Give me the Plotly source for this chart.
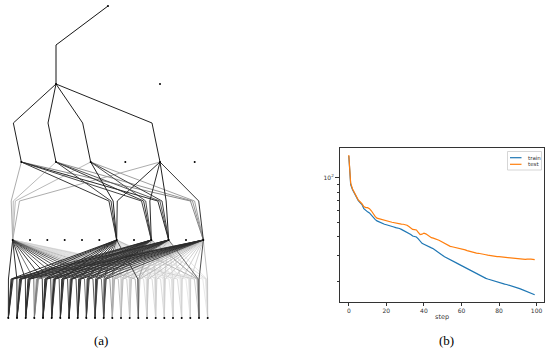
import plotly.graph_objects as go

W, H = 550, 349

# ---------------- (a) tree data ----------------
LEVEL_SLOTS = [1, 2, 6, 12, 24]          # number of node slots per level
# level 0 -> 1 and level 1 -> 2 edges: (parent slot, child slot, darkness)
EDGES_01 = [(0, 0, 1.0)]
EDGES_12 = [(0, 0, 0.95), (0, 1, 0.95), (0, 2, 0.95), (0, 4, 0.95)]
# level 2 -> 3 edges
L2_PARENTS = [0, 1, 2, 4]
L3_CHILDREN = [0, 6, 8, 9, 11]
W_23 = [
    [0.35, 0.85, 0.80, 0.90, 0.50],
    [0.30, 0.80, 0.85, 0.70, 0.45],
    [0.30, 0.95, 0.75, 0.80, 0.40],
    [0.35, 0.90, 0.90, 0.95, 0.85],
]
# level 3 -> 4 (leaves) edges
L3_PARENTS = [0, 6, 8, 9, 11]
W_34 = [
    [0.9, 0.9, 0.85, 0.6, 0.85, 0.8, 0.7, 0.8, 0.75, 0.6, 0.7, 0.6, 0.4, 0.25, 0.2, 0.3, 0.15, 0.15, 0.15, 0.1, 0.15, 0.1, 0.2, 0.1],
    [0.9, 0.85, 0.9, 0.5, 0.9, 0.85, 0.9, 0.8, 0.85, 0.8, 0.75, 0.7, 0.35, 0.2, 0.2, 0.8, 0.15, 0.15, 0.1, 0.15, 0.1, 0.1, 0.3, 0.1],
    [0.85, 0.9, 0.8, 0.55, 0.85, 0.9, 0.8, 0.85, 0.8, 0.85, 0.8, 0.75, 0.3, 0.25, 0.15, 0.4, 0.15, 0.2, 0.15, 0.1, 0.1, 0.15, 0.4, 0.15],
    [0.9, 0.8, 0.85, 0.5, 0.8, 0.85, 0.85, 0.9, 0.8, 0.75, 0.85, 0.7, 0.3, 0.2, 0.2, 0.3, 0.2, 0.15, 0.2, 0.15, 0.15, 0.1, 0.6, 0.1],
    [0.8, 0.85, 0.9, 0.45, 0.9, 0.8, 0.85, 0.8, 0.9, 0.8, 0.7, 0.8, 0.35, 0.3, 0.25, 0.3, 0.25, 0.2, 0.2, 0.2, 0.2, 0.2, 0.75, 0.25],
]

# ---------------- (b) loss curves ----------------
STEPS = list(range(100))
TRAIN = [140, 90, 83, 78, 74, 70.5, 68, 66, 62, 60,
         59, 58, 56, 54, 52.5, 51.3, 50.5, 49.8, 49.2, 48.7,
         48.3, 48, 47.6, 47.2, 46.7, 46.2, 46, 45.6, 45, 44.3,
         43.8, 43.3, 42.5, 41.6, 40.6, 40.2, 40, 38.8, 37.5, 36.3,
         35.8, 35.4, 34.8, 34.2, 33.8, 33.4, 32.8, 32.1, 31.4, 30.8,
         30.1, 29.5, 29, 28.5, 28.1, 27.7, 27.3, 26.9, 26.5, 26.1,
         25.7, 25.3, 24.9, 24.5, 24.1, 23.7, 23.3, 22.9, 22.5, 22.2,
         21.9, 21.6, 21.3, 21.1, 20.9, 20.7, 20.5, 20.3, 20.1, 19.9,
         19.7, 19.6, 19.5, 19.3, 19.2, 19.05, 18.9, 18.7, 18.55, 18.4,
         18.2, 18, 17.8, 17.6, 17.4, 17.2, 17, 16.8, 16.6, 16.4]
TEST = [142, 92, 84, 79, 75, 71, 69, 67, 64, 63,
        63, 62, 60, 57, 55, 53.5, 53, 52.5, 52, 51.5,
        51.2, 51, 50.6, 50.2, 49.8, 49.4, 49.2, 49, 48.8, 48.7,
        48.6, 48, 47, 46, 45, 44.8, 44.6, 43, 41.5, 41.8,
        42.5, 42, 41, 40.3, 39.6, 39.3, 39, 38.5, 38, 37.4,
        36.8, 36, 35.3, 34.8, 34.6, 34.4, 34.2, 34, 33.8, 33.6,
        33.5, 33.2, 32.8, 32.4, 32.1, 31.8, 31.6, 31.4, 31.2, 31.1,
        31, 30.8, 30.6, 30.4, 30.2, 30, 29.8, 29.6, 29.5, 29.5,
        29.5, 29.4, 29.3, 29.2, 29.3, 29.2, 29.1, 29, 28.9, 28.8,
        28.7, 28.6, 28.5, 28.4, 28.3, 28.4, 28.5, 28.4, 28.3, 28.2]
X_TICKS = [0, 20, 40, 60, 80, 100]
Y_MINOR = [20, 30, 40, 50, 60, 70, 80, 90]

# ---------------- layout constants (tree drawing) ----------------
TREE_CENTER, TREE_WIDTH = 108, 208
LEVEL_Y = [6, 84, 162, 240, 318]
BEND_SHIFT = [0, -8, -2, 0]
BEND_PULL = [0, 0, 0.06, 0.025]


def slot_x(level, i):
    n = LEVEL_SLOTS[level]
    return TREE_CENTER + (i - (n - 1) / 2) * TREE_WIDTH / n


edges = []  # (level, parent, child, w)
for p, c, w in EDGES_01:
    edges.append((0, p, c, w))
for p, c, w in EDGES_12:
    edges.append((1, p, c, w))
for a, p in enumerate(L2_PARENTS):
    for b, c in enumerate(L3_CHILDREN):
        edges.append((2, p, c, W_23[a][b]))
for a, p in enumerate(L3_PARENTS):
    for c in range(LEVEL_SLOTS[4]):
        edges.append((3, p, c, W_34[a][c]))

bins = {}
for lev, p, c, w in edges:
    px, cx = slot_x(lev, p), slot_x(lev + 1, c)
    py, cy = LEVEL_Y[lev], LEVEL_Y[lev + 1]
    bx = cx + BEND_SHIFT[lev] + BEND_PULL[lev] * (px - cx)
    by = (py + cy) / 2
    key = round(w * 20) / 20
    xs, ys = bins.setdefault(key, ([], []))
    xs += [px, bx, cx, None]
    ys += [py, by, cy, None]

fig = go.Figure()
for key in sorted(bins):
    xs, ys = bins[key]
    g = int(round(255 * (1 - key * 0.92)))
    fig.add_trace(go.Scatter(x=xs, y=ys, mode="lines", xaxis="x", yaxis="y",
                             line=dict(color=f"rgb({g},{g},{g})", width=1),
                             hoverinfo="skip", showlegend=False))

nx, ny = [], []
for lev, n in enumerate(LEVEL_SLOTS):
    for i in range(n):
        nx.append(slot_x(lev, i))
        ny.append(LEVEL_Y[lev])
fig.add_trace(go.Scatter(x=nx, y=ny, mode="markers", xaxis="x", yaxis="y",
                         marker=dict(color="black", size=2), hoverinfo="skip",
                         showlegend=False))

# ---------------- (b) traces ----------------
fig.add_trace(go.Scatter(x=STEPS, y=TRAIN, mode="lines", xaxis="x2", yaxis="y2",
                         line=dict(color="#1f77b4", width=1.2), name="train", showlegend=False))
fig.add_trace(go.Scatter(x=STEPS, y=TEST, mode="lines", xaxis="x2", yaxis="y2",
                         line=dict(color="#ff7f0e", width=1.2), name="test", showlegend=False))


def px2x(p):
    return p / W


def px2y(p):
    return 1 - p / H


axcol = "#333333"
fig.update_layout(
    width=W, height=H, margin=dict(l=0, r=0, t=0, b=0),
    paper_bgcolor="white", plot_bgcolor="white",
    font=dict(family="DejaVu Sans", color=axcol),
    xaxis=dict(domain=[0, 230 / W], range=[0, 230], visible=False, fixedrange=True),
    yaxis=dict(domain=[0, 1], range=[H, 0], visible=False, fixedrange=True),
    xaxis2=dict(domain=[px2x(339.5), px2x(544)], anchor="y2", range=[-4.95, 103.95],
                tickvals=X_TICKS, ticks="outside", ticklen=3, tickwidth=0.8, tickcolor=axcol,
                tickfont=dict(size=6, color=axcol), showgrid=False, zeroline=False,
                showline=True, linecolor=axcol, linewidth=0.9, mirror=True),
    yaxis2=dict(domain=[px2y(302), px2y(148)], anchor="x2", type="log",
                range=[1.1658, 2.1993], tickvals=[100], ticktext=["10<sup>2</sup>"],
                ticks="outside", ticklen=3.5, tickwidth=0.8, tickcolor=axcol,
                tickfont=dict(size=6, color=axcol), showgrid=False, zeroline=False,
                showline=True, linecolor=axcol, linewidth=0.9, mirror=True,
                minor=dict(tickvals=Y_MINOR, ticks="outside", ticklen=2, tickwidth=0.6,
                           tickcolor=axcol, showgrid=False)),
)

# manual legend
fig.add_shape(type="rect", xref="paper", yref="paper",
              x0=px2x(507.5), x1=px2x(541.5), y0=px2y(170), y1=px2y(151.5),
              line=dict(color="#cccccc", width=0.8), fillcolor="rgba(255,255,255,0.8)")
for yy, col, lab in [(157.7, "#1f77b4", "train"), (164.3, "#ff7f0e", "test")]:
    fig.add_shape(type="line", xref="paper", yref="paper",
                  x0=px2x(510), x1=px2x(521.5), y0=px2y(yy), y1=px2y(yy),
                  line=dict(color=col, width=1.2))
    fig.add_annotation(xref="paper", yref="paper", x=px2x(525.5), y=px2y(yy), text=lab,
                       showarrow=False, xanchor="left", yanchor="middle",
                       font=dict(size=5.5, color=axcol))

fig.add_annotation(xref="paper", yref="paper", x=px2x(441.5), y=px2y(316.7), text="step",
                   showarrow=False, xanchor="center", yanchor="middle",
                   font=dict(size=6.5, color=axcol))
fig.add_annotation(xref="paper", yref="paper", x=px2x(101), y=px2y(340), text="(a)",
                   showarrow=False, xanchor="center", yanchor="middle",
                   font=dict(size=13, color="black", family="Liberation Serif"))
fig.add_annotation(xref="paper", yref="paper", x=px2x(446), y=px2y(340), text="(b)",
                   showarrow=False, xanchor="center", yanchor="middle",
                   font=dict(size=13, color="black", family="Liberation Serif"))

fig.write_html("out.html", config={"displayModeBar": False},
               post_script="document.body.style.margin='0';")
